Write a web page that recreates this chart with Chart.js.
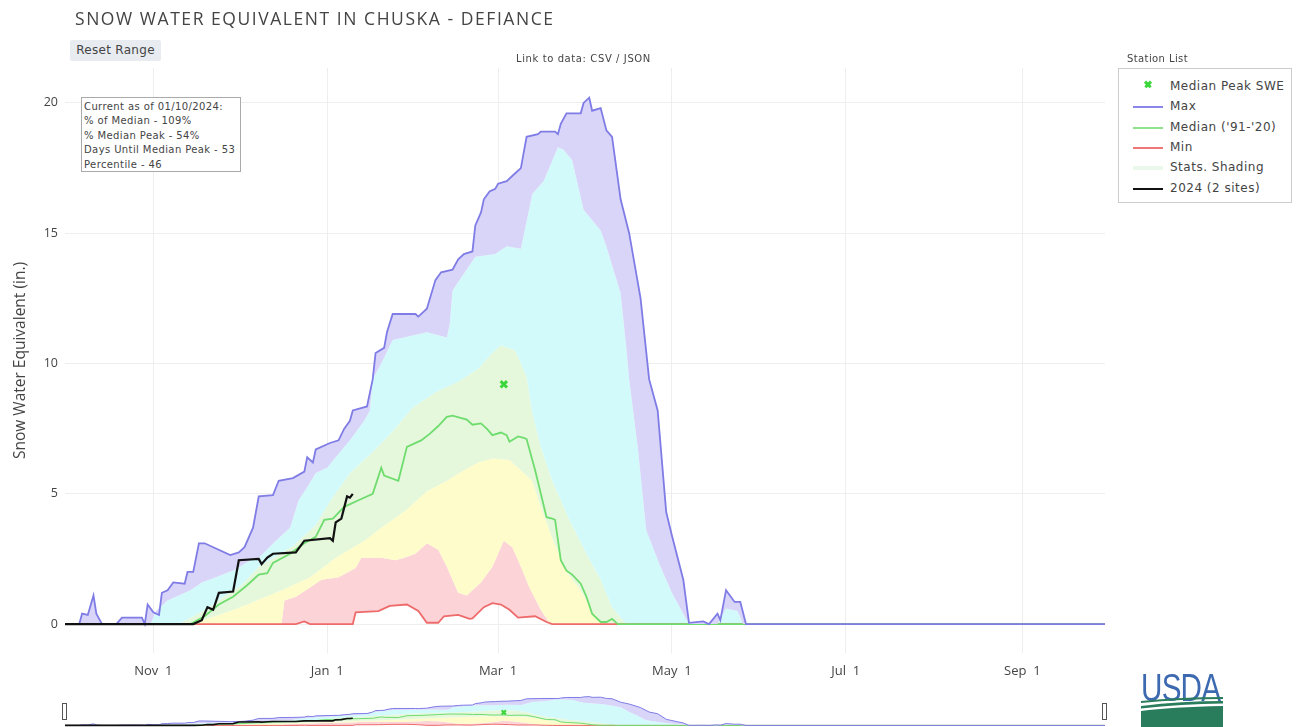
<!DOCTYPE html>
<html>
<head>
<meta charset="utf-8">
<title>Snow Water Equivalent in Chuska - Defiance</title>
<script src="https://cdn.jsdelivr.net/npm/chart.js@4.4.1/dist/chart.umd.min.js"></script>
<style>
html,body{margin:0;padding:0;background:#fff}
body{width:1296px;height:727px;overflow:hidden;position:relative;font-family:"DejaVu Sans",Verdana,sans-serif;color:#444}
#mainWrap{position:absolute;left:0;top:0;width:1296px;height:727px}
#miniWrap{position:absolute;left:0;top:690px;width:1296px;height:37px}
#title{position:absolute;left:75px;top:6px;font-family:"Open Sans",sans-serif;font-size:17.5px;letter-spacing:1.55px;color:#444;white-space:nowrap}
#reset{position:absolute;left:70px;top:40px;width:91px;height:21px;background:#e8ebf0;border-radius:2px;font-size:12px;line-height:21px;text-align:center;color:#444;letter-spacing:0.3px}
#link{position:absolute;left:516px;top:53px;font-size:10px;letter-spacing:0.6px;color:#444;white-space:nowrap}
#legTitle{position:absolute;left:1127px;top:53px;font-size:10px;letter-spacing:0.4px;color:#444}
#legend{position:absolute;left:1118px;top:68px;width:172px;height:133px;border:1px solid #ccc;background:#fff}
.row{position:absolute;left:0;height:20px;width:172px}
.sym{position:absolute;left:14px;width:30px;top:9px}
.lab{position:absolute;left:51px;top:1px;font-size:12px;letter-spacing:0.5px;line-height:17px;white-space:nowrap;color:#444}
.xm{position:absolute;left:11px;top:-3px;width:8px;height:2.5px;background:#3bd63b}
#info{position:absolute;left:81px;top:97px;width:156px;height:71px;border:1px solid #aaa;background:#fff;font-size:10px;letter-spacing:0.4px;line-height:14.4px;padding:2px 0 0 2px;color:#444;white-space:nowrap;box-sizing:content-box}
.handle{position:absolute;top:703px;width:3px;height:15px;border:1px solid #555;background:#fff}
#usda{position:absolute;left:1141px;top:666px;width:82px;height:61px;overflow:hidden}
#usdaTxt{position:absolute;left:0;top:0;font-family:"Liberation Sans",Arial,sans-serif;font-size:38px;line-height:44px;color:#3d69b0;transform:scaleX(0.78);transform-origin:0 0;letter-spacing:-1px}
</style>
</head>
<body>
<div id="mainWrap"><canvas id="main"></canvas></div>
<div id="miniWrap"><canvas id="mini"></canvas></div>

<div id="title">SNOW WATER EQUIVALENT IN CHUSKA - DEFIANCE</div>
<div id="reset">Reset Range</div>
<div id="link">Link to data: CSV / JSON</div>

<div id="info">Current as of 01/10/2024:<br>% of Median - 109%<br>% Median Peak - 54%<br>Days Until Median Peak - 53<br>Percentile - 46</div>

<div id="legTitle">Station List</div>
<div id="legend">
  <div class="row" style="top:8px"><div class="sym"><div class="xm" style="transform:rotate(45deg)"></div><div class="xm" style="transform:rotate(-45deg)"></div></div><div class="lab">Median Peak SWE</div></div>
  <div class="row" style="top:28px"><div class="sym" style="border-top:2px solid #8b86ea"></div><div class="lab">Max</div></div>
  <div class="row" style="top:49px"><div class="sym" style="border-top:2px solid #8fe38f"></div><div class="lab">Median ('91-'20)</div></div>
  <div class="row" style="top:69px"><div class="sym" style="border-top:2px solid #ee7777"></div><div class="lab">Min</div></div>
  <div class="row" style="top:89px"><div class="sym" style="border-top:4px solid #e9f8ea;top:8px"></div><div class="lab">Stats. Shading</div></div>
  <div class="row" style="top:110px"><div class="sym" style="border-top:2px solid #111"></div><div class="lab">2024 (2 sites)</div></div>
</div>

<div class="handle" style="left:62px"></div>
<div class="handle" style="left:1102px"></div>

<div id="usda">
  <div id="usdaTxt">USDA</div>
  <svg width="82" height="61" style="position:absolute;left:0;top:0">
    <path d="M0 35 Q40 31 82 31 L82 33 Q40 33 0 37 Z" fill="#2a7d5c"/>
    <path d="M0 40 Q40 35 82 35 L82 37.5 Q40 38 0 42.5 Z" fill="#2a7d5c"/>
    <path d="M0 45 Q30 41 82 40 L82 61 L0 61 Z" fill="#2a7d5c"/>
  </svg>
</div>

<script>
// ---------- Data (day index from Oct 1, 2023; values in inches) ----------
const tickDays   = [31, 92, 152, 213, 274, 336];
const tickLabels = ['Nov  1', 'Jan  1', 'Mar  1', 'May  1', 'Jul  1', 'Sep  1'];
const yTicks     = [0, 5, 10, 15, 20];

const maxDay = [0,5,6,8,10,11,13,18,20,27,28,29,31,33,34,36,38,42,43,45,47,49,58,61,63,66,68,73,75,80,84,85,87,88,93,96,98,100,101,106,108,109,112,113,115,123,124,127,130,132,136,138,140,143,144,146,147,149,151,152,155,158,160,162,166,167,172,173,174,176,181,182,184,185,188,190,192,195,198,202,205,208,211,213,217,219,224,226,229,230,232,235,237,239,365];
const maxSwe = [0,0,0.4,0.35,1.1,0.4,0,0,0.25,0.25,0,0.75,0.45,0.35,1.2,1.3,1.6,1.55,2.0,2.0,3.1,3.1,2.65,2.75,2.95,3.7,4.9,4.95,5.5,5.6,5.85,6.4,6.2,6.7,6.95,7.05,7.5,7.8,8.2,8.35,9.4,10.4,10.6,11.2,11.9,11.9,11.8,12.1,13.2,13.5,13.6,14.0,14.2,14.3,15.3,15.8,16.3,16.6,16.7,16.9,17.0,17.3,17.5,18.7,18.8,18.9,18.9,18.8,19.2,19.6,19.6,20.0,20.2,19.7,19.8,18.95,18.7,16.3,15.0,12.5,9.4,8.2,4.3,3.4,1.7,0.05,0.1,0,0.4,0.15,1.3,0.85,0.85,0,0];

const p90Day = [0,30,32,36,44,48,53,60,65,68,74,79,82,85,88,92,95,100,105,107,108,111,115,127,134,135,136,144,151,155,160,164,168,173,175,178,182,188,190,195,197,198,201,204,209,213,217,219,229,232,236,238,365];
const p90Swe = [0,0,0.5,0.9,1.3,1.6,1.8,2.1,2.45,2.55,3.2,3.7,4.75,5.25,5.8,6.0,6.4,7.05,7.8,8.2,9.4,10.0,10.9,11.2,11.0,11.5,12.8,14.1,14.2,14.5,14.4,16.5,17.0,18.3,18.2,17.8,15.9,15.1,14.5,12.7,10.6,9.4,6.8,3.6,2.2,1.2,0.4,0,0,0.6,0.5,0,0];

const p70Day = [0,40,45,50,55,62,68,80,88,93,100,108,115,122,130,138,145,150,153,158,162,164,167,171,177,183,188,192,197,365];
const p70Swe = [0,0,0.3,0.6,1.0,1.5,2.2,3.0,3.8,4.7,5.8,6.6,7.4,8.3,8.9,9.3,9.8,10.4,10.7,10.5,9.5,8.1,6.8,5.5,4.0,2.7,1.7,0.65,0,0];

const p30Day = [0,44,50,58,65,76,86,95,105,111,120,127,134,140,145,150,156,159,161,164,167,171,176,181,185,188,190,365];
const p30Swe = [0,0,0.2,0.5,0.8,1.3,1.8,2.55,3.2,3.7,4.4,5.1,5.5,5.9,6.2,6.35,6.3,6.0,5.8,5.5,4.5,3.3,2.0,1.3,0.5,0.1,0,0];

const p10Day = [0,76,77,81,86,90,96,102,104,111,116,119,123,127,131,134,138,141,146,150,154,157,160,163,167,170,172,365];
const p10Swe = [0,0,0.9,1.05,1.4,1.7,1.8,2.15,2.55,2.55,2.45,2.55,2.7,3.1,2.85,2.2,1.2,1.1,1.6,2.2,3.2,2.95,2.2,1.4,0.55,0.05,0,0];

const minDay = [0,81,84,86,101,102,110,113,114,120,124,127,131,133,138,142,143,147,150,153,156,159,165,169,171,365];
const minSwe = [0,0,0.1,0,0,0.45,0.5,0.65,0.7,0.75,0.5,0.05,0.05,0.3,0.35,0.2,0.22,0.65,0.8,0.75,0.55,0.25,0.3,0.08,0,0];

const medDay = [0,44,49,54,59,64,68,71,73,79,84,88,91,94,98,103,108,111,112,117,120,125,128,131,134,136,141,143,146,148,150,153,155,156,159,161,162,165,169,171,172,174,176,178,181,183,185,188,190,192,194,365];
const medSwe = [0,0,0.3,0.75,1.05,1.5,1.9,1.95,2.35,2.7,3.1,3.35,4.0,4.05,4.5,4.75,5.0,6.0,5.7,5.5,6.8,7.05,7.3,7.6,7.95,8.0,7.85,7.65,7.7,7.5,7.25,7.35,7.25,7.0,7.2,7.15,7.1,5.9,4.1,4.05,4.0,2.45,2.05,1.9,1.55,1.05,0.4,0.08,0.08,0.2,0,0];

const wy2024Day = [0,45,48,50,52,54,59,61,68,69,71,73,81,84,93,94,95,97,99,100,101];
const wy2024Swe = [0,0,0.15,0.65,0.55,1.2,1.25,2.45,2.5,2.3,2.55,2.7,2.75,3.2,3.3,3.2,3.9,4.05,4.9,4.85,5.0];

const peakDay = [154];
const peakSwe = [9.2];

// ---------- Styles ----------
const C = {
  pink: '#fcd3d7', yellow: '#fdfcca', green: '#e5f8db', cyan: '#d3fafa', lav: '#d9d5f8',
  max: '#7f7ce6', med: '#6fdc6f', min: '#ee6b6b', cur: '#111111', peak: '#3bd63b'
};

const pts = (d, v) => d.map((x, i) => ({x: x, y: v[i]}));

function buildDatasets(mini) {
  const lw = mini ? 1 : 1.8;
  return [
    {label:'Min', data: pts(minDay, minSwe), borderColor: C.min, borderWidth: lw, fill: false, order: 3},
    {label:'p10', data: pts(p10Day, p10Swe), borderWidth: 0, borderColor: 'rgba(0,0,0,0)', backgroundColor: C.pink, fill: 0, order: 8},
    {label:'p30', data: pts(p30Day, p30Swe), borderWidth: 0, borderColor: 'rgba(0,0,0,0)', backgroundColor: C.yellow, fill: 1, order: 7},
    {label:'p70', data: pts(p70Day, p70Swe), borderWidth: 0, borderColor: 'rgba(0,0,0,0)', backgroundColor: C.green, fill: 2, order: 6},
    {label:'p90', data: pts(p90Day, p90Swe), borderWidth: 0, borderColor: 'rgba(0,0,0,0)', backgroundColor: C.cyan, fill: 3, order: 5},
    {label:'Max', data: pts(maxDay, maxSwe), borderColor: C.max, borderWidth: lw, backgroundColor: C.lav, fill: 4, order: 1},
    {label:"Median ('91-'20)", data: pts(medDay, medSwe), borderColor: C.med, borderWidth: lw, fill: false, order: 2},
    {label:'2024 (2 sites)', data: pts(wy2024Day, wy2024Swe), borderColor: C.cur, borderWidth: mini ? 1.6 : 2.2, fill: false, order: 0},
    {label:'Median Peak SWE', data: pts(peakDay, peakSwe), showLine: false, pointRadius: mini ? 3 : 4.5,
     pointStyle: 'crossRot', borderColor: C.peak, pointBorderWidth: mini ? 2 : 3, pointBorderColor: C.peak, fill: false, order: -1}
  ].map(d => Object.assign({pointRadius: 0, tension: 0, pointHoverRadius: 0}, d));
}

Chart.defaults.animation = false;

new Chart(document.getElementById('main'), {
  type: 'line',
  data: {datasets: buildDatasets(false)},
  options: {
    responsive: true, maintainAspectRatio: false, devicePixelRatio: 1,
    layout: {autoPadding: false, padding: {left: 0, right: 191, top: 68, bottom: 44}},
    plugins: {legend: {display: false}, tooltip: {enabled: false}},
    scales: {
      x: {
        type: 'linear', min: 0, max: 365,
        afterBuildTicks: s => { s.ticks = tickDays.map(v => ({value: v})); },
        afterFit: s => { s.height = 30; },
        ticks: {autoSkip: false, maxRotation: 0, padding: 10, color: '#444',
                font: {family: 'Open Sans', size: 13},
                callback: v => tickLabels[tickDays.indexOf(v)]},
        grid: {color: '#eeeeee', drawTicks: false},
        border: {display: false}
      },
      y: {
        min: -1.11, max: 21.34,
        afterBuildTicks: s => { s.ticks = yTicks.map(v => ({value: v})); },
        afterFit: s => { s.width = 65; },
        ticks: {padding: 7, color: '#444', font: {family: 'Open Sans', size: 12.5}},
        grid: {color: '#eeeeee', drawTicks: false},
        border: {display: false},
        title: {display: true, text: 'Snow Water Equivalent (in.)', color: '#444',
                font: {family: 'Open Sans', size: 15.5}, padding: {top: 11, bottom: 0}}
      }
    }
  }
});

new Chart(document.getElementById('mini'), {
  type: 'line',
  data: {datasets: buildDatasets(true)},
  options: {
    responsive: true, maintainAspectRatio: false, devicePixelRatio: 1,
    layout: {autoPadding: false, padding: {left: 65, right: 191, top: 5, bottom: 0}},
    plugins: {legend: {display: false}, tooltip: {enabled: false}},
    scales: {
      x: {type: 'linear', min: 0, max: 365, display: false},
      y: {min: -1.11, max: 21.34, display: false}
    }
  }
});
</script>
</body>
</html>
